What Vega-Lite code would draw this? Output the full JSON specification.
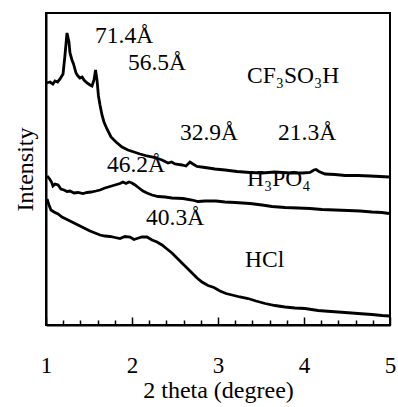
{
  "$schema": "https://vega.github.io/schema/vega-lite/v6.json",
  "width": 344,
  "height": 312,
  "autosize": "none",
  "padding": {"left": 46, "top": 13, "right": 8, "bottom": 82},
  "config": {"view": {"stroke": "black", "strokeWidth": 2}, "font": "Liberation Serif"},
  "resolve": {"axis": {"x": "independent"}},
  "layer": [
    {
      "data": {"values": [
        {"s":"CF","x":1.006,"y":242},{"s":"CF","x":1.047,"y":243},{"s":"CF","x":1.08,"y":241},{"s":"CF","x":1.105,"y":244},{"s":"CF","x":1.135,"y":243},{"s":"CF","x":1.163,"y":246},{"s":"CF","x":1.198,"y":251},{"s":"CF","x":1.221,"y":270},{"s":"CF","x":1.244,"y":292},{"s":"CF","x":1.267,"y":283},{"s":"CF","x":1.279,"y":272},{"s":"CF","x":1.302,"y":265},{"s":"CF","x":1.32,"y":261},{"s":"CF","x":1.349,"y":252},{"s":"CF","x":1.372,"y":249},{"s":"CF","x":1.395,"y":247},{"s":"CF","x":1.42,"y":248},{"s":"CF","x":1.442,"y":245},{"s":"CF","x":1.477,"y":242},{"s":"CF","x":1.512,"y":240},{"s":"CF","x":1.535,"y":239},{"s":"CF","x":1.558,"y":245},{"s":"CF","x":1.576,"y":255},{"s":"CF","x":1.593,"y":245},{"s":"CF","x":1.61,"y":229},{"s":"CF","x":1.628,"y":220},{"s":"CF","x":1.651,"y":210},{"s":"CF","x":1.674,"y":203},{"s":"CF","x":1.709,"y":196},{"s":"CF","x":1.756,"y":188},{"s":"CF","x":1.814,"y":183},{"s":"CF","x":1.884,"y":178},{"s":"CF","x":1.953,"y":175},{"s":"CF","x":2.023,"y":173},{"s":"CF","x":2.093,"y":171},{"s":"CF","x":2.174,"y":169},{"s":"CF","x":2.267,"y":167.5},{"s":"CF","x":2.349,"y":165},{"s":"CF","x":2.419,"y":162},{"s":"CF","x":2.46,"y":163},{"s":"CF","x":2.5,"y":161},{"s":"CF","x":2.581,"y":160},{"s":"CF","x":2.628,"y":159},{"s":"CF","x":2.674,"y":163},{"s":"CF","x":2.709,"y":161},{"s":"CF","x":2.756,"y":158.5},{"s":"CF","x":2.849,"y":157.5},{"s":"CF","x":2.965,"y":156},{"s":"CF","x":3.081,"y":155},{"s":"CF","x":3.221,"y":153.5},{"s":"CF","x":3.372,"y":152.5},{"s":"CF","x":3.512,"y":152},{"s":"CF","x":3.663,"y":153},{"s":"CF","x":3.837,"y":152},{"s":"CF","x":3.988,"y":152},{"s":"CF","x":4.07,"y":152.5},{"s":"CF","x":4.116,"y":155},{"s":"CF","x":4.14,"y":155.5},{"s":"CF","x":4.174,"y":153.5},{"s":"CF","x":4.244,"y":151},{"s":"CF","x":4.36,"y":150.5},{"s":"CF","x":4.477,"y":149.5},{"s":"CF","x":4.628,"y":149.5},{"s":"CF","x":4.767,"y":149},{"s":"CF","x":4.884,"y":148.5},{"s":"CF","x":4.988,"y":148},
        {"s":"HP","x":1.012,"y":149},{"s":"HP","x":1.035,"y":147},{"s":"HP","x":1.064,"y":143},{"s":"HP","x":1.081,"y":139},{"s":"HP","x":1.105,"y":141},{"s":"HP","x":1.14,"y":140},{"s":"HP","x":1.174,"y":136},{"s":"HP","x":1.209,"y":135},{"s":"HP","x":1.244,"y":133.5},{"s":"HP","x":1.279,"y":134},{"s":"HP","x":1.326,"y":132},{"s":"HP","x":1.372,"y":132.5},{"s":"HP","x":1.43,"y":131.5},{"s":"HP","x":1.477,"y":132.5},{"s":"HP","x":1.523,"y":133},{"s":"HP","x":1.581,"y":134},{"s":"HP","x":1.628,"y":135},{"s":"HP","x":1.686,"y":137},{"s":"HP","x":1.744,"y":138.5},{"s":"HP","x":1.802,"y":140},{"s":"HP","x":1.86,"y":141.5},{"s":"HP","x":1.895,"y":143},{"s":"HP","x":1.93,"y":141.5},{"s":"HP","x":1.965,"y":143},{"s":"HP","x":2.0,"y":142},{"s":"HP","x":2.035,"y":140},{"s":"HP","x":2.081,"y":137},{"s":"HP","x":2.128,"y":134},{"s":"HP","x":2.174,"y":132},{"s":"HP","x":2.233,"y":130},{"s":"HP","x":2.302,"y":128.5},{"s":"HP","x":2.384,"y":128},{"s":"HP","x":2.465,"y":127},{"s":"HP","x":2.593,"y":126.5},{"s":"HP","x":2.698,"y":125},{"s":"HP","x":2.767,"y":123.5},{"s":"HP","x":2.849,"y":124},{"s":"HP","x":2.977,"y":124},{"s":"HP","x":3.081,"y":123},{"s":"HP","x":3.198,"y":122.5},{"s":"HP","x":3.372,"y":121.5},{"s":"HP","x":3.512,"y":120},{"s":"HP","x":3.628,"y":118.5},{"s":"HP","x":3.779,"y":117.5},{"s":"HP","x":3.93,"y":117},{"s":"HP","x":4.07,"y":116.5},{"s":"HP","x":4.209,"y":115.5},{"s":"HP","x":4.36,"y":115},{"s":"HP","x":4.512,"y":114.5},{"s":"HP","x":4.651,"y":114},{"s":"HP","x":4.791,"y":113},{"s":"HP","x":4.907,"y":112.5},{"s":"HP","x":4.988,"y":111.5},
        {"s":"HC","x":1.012,"y":126},{"s":"HC","x":1.035,"y":120},{"s":"HC","x":1.058,"y":115},{"s":"HC","x":1.093,"y":113},{"s":"HC","x":1.14,"y":111},{"s":"HC","x":1.186,"y":108},{"s":"HC","x":1.233,"y":106},{"s":"HC","x":1.279,"y":104},{"s":"HC","x":1.326,"y":102},{"s":"HC","x":1.372,"y":100},{"s":"HC","x":1.419,"y":98},{"s":"HC","x":1.465,"y":96},{"s":"HC","x":1.512,"y":94},{"s":"HC","x":1.57,"y":92},{"s":"HC","x":1.628,"y":90},{"s":"HC","x":1.686,"y":89},{"s":"HC","x":1.744,"y":88.5},{"s":"HC","x":1.802,"y":87.5},{"s":"HC","x":1.86,"y":86.5},{"s":"HC","x":1.919,"y":88.5},{"s":"HC","x":1.977,"y":88},{"s":"HC","x":2.023,"y":85.5},{"s":"HC","x":2.058,"y":86.5},{"s":"HC","x":2.116,"y":88},{"s":"HC","x":2.174,"y":88},{"s":"HC","x":2.233,"y":85},{"s":"HC","x":2.291,"y":83},{"s":"HC","x":2.349,"y":80},{"s":"HC","x":2.407,"y":76},{"s":"HC","x":2.465,"y":72},{"s":"HC","x":2.523,"y":67},{"s":"HC","x":2.581,"y":62},{"s":"HC","x":2.64,"y":57},{"s":"HC","x":2.698,"y":52},{"s":"HC","x":2.756,"y":47},{"s":"HC","x":2.814,"y":43},{"s":"HC","x":2.884,"y":39.5},{"s":"HC","x":2.953,"y":37.5},{"s":"HC","x":3.023,"y":34},{"s":"HC","x":3.093,"y":31.5},{"s":"HC","x":3.163,"y":30},{"s":"HC","x":3.256,"y":28},{"s":"HC","x":3.349,"y":26.5},{"s":"HC","x":3.442,"y":24},{"s":"HC","x":3.547,"y":21.5},{"s":"HC","x":3.663,"y":19.5},{"s":"HC","x":3.779,"y":18},{"s":"HC","x":3.895,"y":17},{"s":"HC","x":4.012,"y":16.5},{"s":"HC","x":4.163,"y":14.5},{"s":"HC","x":4.314,"y":13.5},{"s":"HC","x":4.477,"y":12.5},{"s":"HC","x":4.628,"y":11.5},{"s":"HC","x":4.791,"y":10.5},{"s":"HC","x":4.907,"y":9.5},{"s":"HC","x":4.988,"y":9}
      ]},
      "mark": {"type": "line", "color": "black", "strokeWidth": 2.8, "clip": true},
      "encoding": {
        "x": {"field": "x", "type": "quantitative",
          "scale": {"domain": [1, 5], "nice": false, "zero": false},
          "axis": {"title": "2 theta (degree)", "orient": "bottom", "values": [1, 2, 3, 4, 5], "format": "d",
            "grid": false, "labelFlush": false,
            "tickSize": -8, "tickColor": "black", "tickWidth": 1.5,
            "domainColor": "black", "domainWidth": 2,
            "labelFont": "Liberation Serif", "labelFontSize": 23, "labelColor": "black", "labelPadding": 37,
            "titleFont": "Liberation Serif", "titleFontSize": 24, "titleFontWeight": "normal", "titleColor": "black", "titlePadding": 1}},
        "y": {"field": "y", "type": "quantitative",
          "scale": {"domain": [0, 312], "nice": false, "zero": false},
          "axis": {"title": "Intensity", "ticks": false, "labels": false, "grid": false,
            "domainColor": "black", "domainWidth": 2,
            "titleFont": "Liberation Serif", "titleFontSize": 24, "titleFontWeight": "normal", "titleColor": "black", "titlePadding": 9}},
        "detail": {"field": "s"}
      }
    },
    {
      "data": {"values": [
        {"t":"71.4Å","x":1.57,"y":282},
        {"t":"56.5Å","x":1.953,"y":255},
        {"t":"CF₃SO₃H","x":3.337,"y":242},
        {"t":"32.9Å","x":2.558,"y":185},
        {"t":"21.3Å","x":3.698,"y":185},
        {"t":"46.2Å","x":1.709,"y":153},
        {"t":"H₃PO₄","x":3.337,"y":139},
        {"t":"40.3Å","x":2.163,"y":100},
        {"t":"HCl","x":3.314,"y":58}
      ]},
      "mark": {"type": "text", "align": "left", "baseline": "alphabetic", "font": "Liberation Serif", "fontSize": 23.5, "color": "black"},
      "encoding": {
        "x": {"field": "x", "type": "quantitative",
          "axis": {"orient": "bottom", "title": null, "labels": false, "domain": false, "grid": false,
            "values": [1.2,1.4,1.6,1.8,2.2,2.4,2.6,2.8,3.2,3.4,3.6,3.8,4.2,4.4,4.6,4.8],
            "tickSize": -5, "tickColor": "black", "tickWidth": 1.5}},
        "y": {"field": "y", "type": "quantitative"},
        "text": {"field": "t"}
      }
    }
  ]
}
